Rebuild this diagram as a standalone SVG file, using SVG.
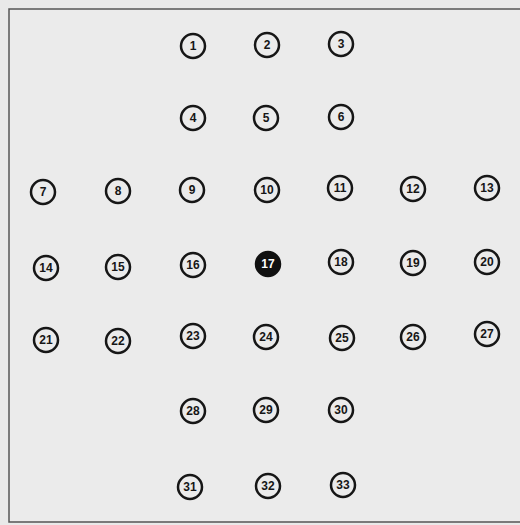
<svg xmlns="http://www.w3.org/2000/svg" width="520" height="525" viewBox="0 0 520 525">
<style>
.h circle{fill:#ebebeb;stroke:#161616;stroke-width:2.5}
.h text{font-family:"Liberation Sans",Arial,sans-serif;font-weight:bold;font-size:12px;fill:#161616;text-anchor:middle;dominant-baseline:central}
.e circle{fill:#111;stroke:#111;stroke-width:2.5}
.e text{font-family:"Liberation Sans",Arial,sans-serif;font-weight:bold;font-size:12px;fill:#fff;text-anchor:middle;dominant-baseline:central}
</style>
<rect x="0" y="0" width="520" height="525" fill="#e9e9e9"/>
<rect x="9" y="9" width="512" height="513" fill="#ebebeb" stroke="#555" stroke-width="1.5"/>
<g id="board">
<g id="n1" class="h"><circle cx="193" cy="46" r="12"/><text x="193" y="46">1</text></g>
<g id="n2" class="h"><circle cx="267" cy="45" r="12"/><text x="267" y="45">2</text></g>
<g id="n3" class="h"><circle cx="341" cy="44" r="12"/><text x="341" y="44">3</text></g>
<g id="n4" class="h"><circle cx="193" cy="118" r="12"/><text x="193" y="118">4</text></g>
<g id="n5" class="h"><circle cx="266" cy="118" r="12"/><text x="266" y="118">5</text></g>
<g id="n6" class="h"><circle cx="341" cy="117" r="12"/><text x="341" y="117">6</text></g>
<g id="n7" class="h"><circle cx="43" cy="192" r="12"/><text x="43" y="192">7</text></g>
<g id="n8" class="h"><circle cx="118" cy="191" r="12"/><text x="118" y="191">8</text></g>
<g id="n9" class="h"><circle cx="192" cy="190" r="12"/><text x="192" y="190">9</text></g>
<g id="n10" class="h"><circle cx="267" cy="190" r="12"/><text x="267" y="190">10</text></g>
<g id="n11" class="h"><circle cx="340" cy="188" r="12"/><text x="340" y="188">11</text></g>
<g id="n12" class="h"><circle cx="413" cy="189" r="12"/><text x="413" y="189">12</text></g>
<g id="n13" class="h"><circle cx="487" cy="188" r="12"/><text x="487" y="188">13</text></g>
<g id="n14" class="h"><circle cx="46" cy="268" r="12"/><text x="46" y="268">14</text></g>
<g id="n15" class="h"><circle cx="118" cy="267" r="12"/><text x="118" y="267">15</text></g>
<g id="n16" class="h"><circle cx="193" cy="265" r="12"/><text x="193" y="265">16</text></g>
<g id="n17" class="e"><circle cx="268" cy="264" r="12"/><text x="268" y="264">17</text></g>
<g id="n18" class="h"><circle cx="341" cy="262" r="12"/><text x="341" y="262">18</text></g>
<g id="n19" class="h"><circle cx="413" cy="263" r="12"/><text x="413" y="263">19</text></g>
<g id="n20" class="h"><circle cx="487" cy="262" r="12"/><text x="487" y="262">20</text></g>
<g id="n21" class="h"><circle cx="46" cy="340" r="12"/><text x="46" y="340">21</text></g>
<g id="n22" class="h"><circle cx="118" cy="341" r="12"/><text x="118" y="341">22</text></g>
<g id="n23" class="h"><circle cx="193" cy="336" r="12"/><text x="193" y="336">23</text></g>
<g id="n24" class="h"><circle cx="266" cy="337" r="12"/><text x="266" y="337">24</text></g>
<g id="n25" class="h"><circle cx="342" cy="338" r="12"/><text x="342" y="338">25</text></g>
<g id="n26" class="h"><circle cx="413" cy="337" r="12"/><text x="413" y="337">26</text></g>
<g id="n27" class="h"><circle cx="487" cy="334" r="12"/><text x="487" y="334">27</text></g>
<g id="n28" class="h"><circle cx="193" cy="411" r="12"/><text x="193" y="411">28</text></g>
<g id="n29" class="h"><circle cx="266" cy="410" r="12"/><text x="266" y="410">29</text></g>
<g id="n30" class="h"><circle cx="341" cy="410" r="12"/><text x="341" y="410">30</text></g>
<g id="n31" class="h"><circle cx="190" cy="487" r="12"/><text x="190" y="487">31</text></g>
<g id="n32" class="h"><circle cx="268" cy="486" r="12"/><text x="268" y="486">32</text></g>
<g id="n33" class="h"><circle cx="343" cy="485" r="12"/><text x="343" y="485">33</text></g>
</g>
<g id="connectors"></g>
</svg>
